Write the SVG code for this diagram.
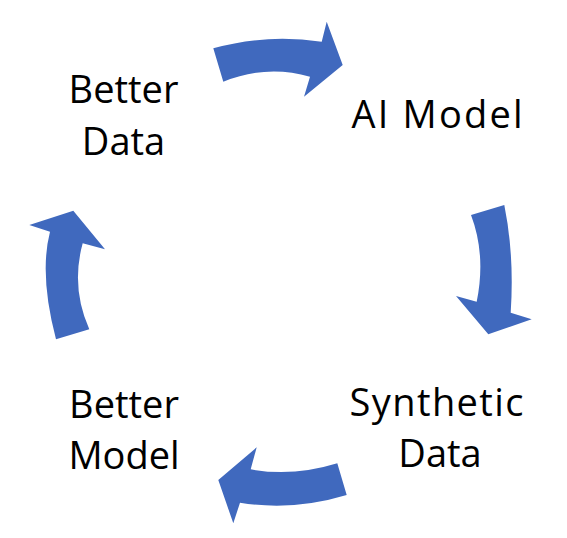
<svg xmlns="http://www.w3.org/2000/svg" width="567" height="538" viewBox="0 0 567 538">
<style>
.lbl{font-family:"Open Sans","Liberation Sans",sans-serif;font-size:38px;fill:#000;text-anchor:middle}
.arr{fill:#4069BE}
</style>
<rect width="567" height="538" fill="#fff"/>
<g id="connectors">
<path class="arr" d="M213.3,48.3 Q265.9,33.6 321.7,41.7 L326.7,21.7 L342.7,65 L304,96.7 L310,76.7 Q266.7,64.2 223.3,81.7 Z"/>
<path class="arr" d="M471,215 L504.3,205 Q514.5,255.2 510.7,312.7 L531.7,319.3 L488.3,334.3 L456,296 L476.7,301.7 Q486.2,255 471,215 Z"/>
<path class="arr" d="M337.3,463.3 L346.7,495 Q293.3,511.2 240,502.7 L233.3,523.3 L218.3,480 L256.7,447.3 L250.7,469.3 Q292.6,477.1 337.3,463.3 Z"/>
<path class="arr" d="M56,339.3 L89.3,329.3 Q70.6,287.1 82.7,243.3 L105,249.3 L73.3,210.7 L29.3,225 L50,231.7 Q39,274.5 56,339.3 Z"/>
</g>
<g id="better-data">
<text class="lbl" x="123.5" y="103">Better</text>
<text class="lbl" x="123.5" y="154.5">Data</text>
</g>
<g id="ai-model">
<text class="lbl" x="437" y="127.5" textLength="171" lengthAdjust="spacing">AI Model</text>
</g>
<g id="synthetic-data">
<text class="lbl" x="436.5" y="415.5" textLength="174" lengthAdjust="spacing">Synthetic</text>
<text class="lbl" x="440" y="466.5">Data</text>
</g>
<g id="better-model">
<text class="lbl" x="124" y="418">Better</text>
<text class="lbl" x="124" y="469">Model</text>
</g>
</svg>
